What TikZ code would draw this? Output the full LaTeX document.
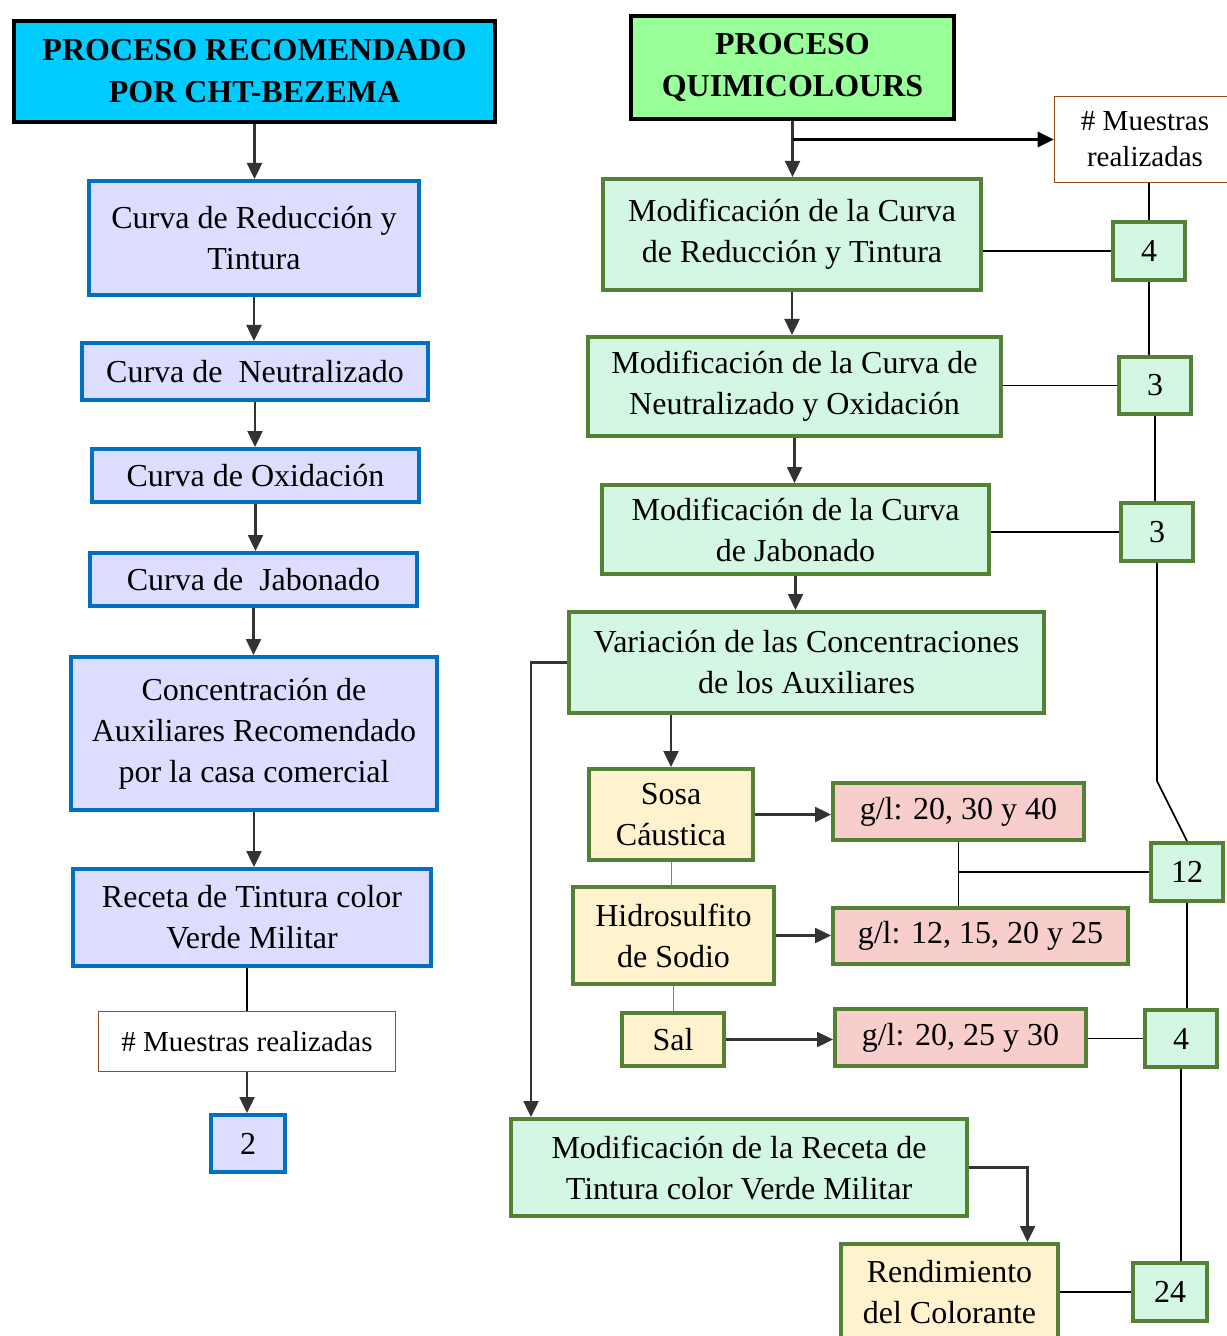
\documentclass[tikz,border=0pt]{standalone}
\usepackage{fontspec}
\setmainfont{Liberation Serif}
\usetikzlibrary{arrows.meta}
\definecolor{cyanhead}{HTML}{00CCFF}
\definecolor{greenhead}{HTML}{99FF99}
\definecolor{blueline}{HTML}{0070C0}
\definecolor{bluefill}{HTML}{DDDDFF}
\definecolor{greenline}{HTML}{538135}
\definecolor{mint}{HTML}{D4F7E3}
\definecolor{cream}{HTML}{FFF2CC}
\definecolor{rose}{HTML}{F8CECC}
\definecolor{brownline}{HTML}{964B1E}
\definecolor{arrowgray}{HTML}{333333}

\begin{document}
\begin{tikzpicture}[x=0.5pt, y=-0.5pt,
	every node/.style={align=center, inner sep=0pt, font=\fontsize{16}{20.5}\selectfont},
	head/.style={draw=black, line width=2pt, font=\fontsize{16}{21}\selectfont\bfseries},
	lbox/.style={draw=blueline, fill=bluefill, line width=2pt},
	rbox/.style={draw=greenline, fill=mint, line width=2pt},
	ybox/.style={draw=greenline, fill=cream, line width=2pt},
	gbox/.style={draw=greenline, fill=rose, line width=2pt},
	mbox/.style={draw=brownline, fill=white, line width=0.8pt, font=\fontsize{14.5}{18}\selectfont},
	flow/.style={draw=arrowgray, line width=1.2pt, -{Triangle[length=8pt,width=7.5pt]}},
	link/.style={draw=black, line width=0.8pt},
	thin link/.style={draw=gray, line width=0.5pt}]
	\useasboundingbox (0,0) rectangle (1226,1336);

	\node[head, fill=cyanhead, minimum width=240.5pt, minimum height=50.5pt] (a1) at (254.5,71.5) {PROCESO RECOMENDADO\\POR CHT-BEZEMA};
	\node[lbox, minimum width=165pt, minimum height=57pt] (a2) at (254,238) {Curva de Reducción y\\Tintura};
	\node[lbox, minimum width=173pt, minimum height=28.5pt] (a3) at (255,371.5) {Curva de~ Neutralizado};
	\node[lbox, minimum width=163.5pt, minimum height=26.5pt] (a4) at (255.5,475.5) {Curva de Oxidación};
	\node[lbox, minimum width=163.5pt, minimum height=26.5pt] (a5) at (253.5,579.5) {Curva de~ Jabonado};
	\node[lbox, minimum width=183pt, minimum height=76.5pt] (a6) at (254,733.5) {Concentración de\\Auxiliares Recomendado\\por la casa comercial};
	\node[lbox, minimum width=179pt, minimum height=48.5pt] (a7) at (252,917.5) {Receta de Tintura color\\Verde Militar};
	\node[mbox, minimum width=148.5pt, minimum height=30pt] (a8) at (247,1041.5) {\# Muestras realizadas};
	\node[lbox, minimum width=37pt, minimum height=28.5pt] (a9) at (248,1143.5) {2};

	\node[head, fill=greenhead, minimum width=161.5pt, minimum height=51.5pt] (b0) at (792.5,67.5) {PROCESO\\QUIMICOLOURS};
	\node[mbox, minimum width=90.5pt, minimum height=43pt] (m1) at (1145,139.5) {\# Muestras\\realizadas};
	\node[rbox, minimum width=189pt, minimum height=55.5pt] (b1) at (792,234.5) {Modificación de la Curva\\de Reducción y Tintura};
	\node[rbox, minimum width=206.5pt, minimum height=49.5pt] (b2) at (794.5,386.5) {Modificación de la Curva de\\Neutralizado y Oxidación};
	\node[rbox, minimum width=193.5pt, minimum height=44.5pt] (b3) at (795.5,529.5) {Modificación de la Curva\\de Jabonado};
	\node[rbox, minimum width=237.5pt, minimum height=50.5pt] (b4) at (806.5,662.5) {Variación de las Concentraciones\\de los Auxiliares};
	\node[rbox, minimum width=228pt, minimum height=48.5pt] (b5) at (739,1167.5) {Modificación de la Receta de\\Tintura color Verde Militar};

	\node[ybox, minimum width=82pt, minimum height=45.5pt] (c1) at (671,814.5) {Sosa\\Cáustica};
	\node[ybox, minimum width=100.5pt, minimum height=48.5pt] (c2) at (673.5,935.5) {Hidrosulfito\\de Sodio};
	\node[ybox, minimum width=51pt, minimum height=26.5pt] (c3) at (673,1039.5) {Sal};
	\node[ybox, minimum width=108.5pt, minimum height=48pt] (c4) at (949.5,1292) {Rendimiento\\del Colorante};

	\node[gbox, minimum width=125.5pt, minimum height=28.5pt] (d1) at (958.5,811.5) {g/l: 20, 30 y 40};
	\node[gbox, minimum width=147.5pt, minimum height=28pt] (d2) at (980.5,936) {g/l: 12, 15, 20 y 25};
	\node[gbox, minimum width=125.5pt, minimum height=28.5pt] (d3) at (960.5,1037.5) {g/l: 20, 25 y 30};

	\node[rbox, minimum width=36pt, minimum height=29pt] (e1) at (1149,251) {4};
	\node[rbox, minimum width=36pt, minimum height=28.5pt] (e2) at (1155,385.5) {3};
	\node[rbox, minimum width=36pt, minimum height=29pt] (e3) at (1157,532) {3};
	\node[rbox, minimum width=36pt, minimum height=29pt] (e4) at (1187,872) {12};
	\node[rbox, minimum width=36pt, minimum height=28.5pt] (e5) at (1181,1038.5) {4};
	\node[rbox, minimum width=37pt, minimum height=29pt] (e6) at (1170,1292) {24};

	\draw[flow] (a1.south) -- (a1.south |- a2.north);
	\draw[flow] (a2.south) -- (a2.south |- a3.north);
	\draw[flow] (a3.south) -- (a3.south |- a4.north);
	\draw[flow] (a4.south) -- (a4.south |- a5.north);
	\draw[flow] (a5.south) -- (a5.south |- a6.north);
	\draw[flow] (a6.south) -- (a6.south |- a7.north);
	\draw[link] (a8.north |- a7.south) -- (a8.north);
	\draw[flow] (a8.south) -- (a8.south |- a9.north);

	\draw[flow] (b0.south) -- (b0.south |- b1.north);
	\draw[flow, line width=1.5pt, draw=black] (b0.south |- m1.west) -- (m1.west);
	\draw[flow] (b1.south) -- (b1.south |- b2.north);
	\draw[flow] (b2.south) -- (b2.south |- b3.north);
	\draw[flow] (b3.south) -- (b3.south |- b4.north);
	\draw[flow] (b4.south -| c1.north) -- (c1.north);
	\draw[flow] (b4.west) -| ([xshift=11pt]b5.north west);
	\draw[flow] (b5.east) -| ([xshift=39pt]c4.north);

	\draw[flow] (c1.east) -- (c1.east -| d1.west);
	\draw[flow] (c2.east) -- (c2.east -| d2.west);
	\draw[flow] (c3.east) -- (c3.east -| d3.west);
	\draw[thin link] (c1.south) -- (c1.south |- c2.north);
	\draw[thin link] (c3.north |- c2.south) -- (c3.north);

	\draw[link] (d1.south) -- (d1.south |- d2.north);
	\draw[link] (d1.south |- e4.west) -- (e4.west);
	\draw[link] (e5.west -| d3.east) -- (e5.west);
	\draw[link] (e1.west -| b1.east) -- (e1.west);
	\draw[link] (e2.west -| b2.east) -- (e2.west);
	\draw[link] (e3.west -| b3.east) -- (e3.west);
	\draw[link] (c4.east) -- (e6.west);

	\draw[link] (e1.north |- m1.south) -- (e1.north);
	\draw[link] (e1.south) -- (e1.south |- e2.north);
	\draw[link] (e2.south) -- (e2.south |- e3.north);
	\draw[link] (e3.south) -- (e3.south |- d1.north) -- (e4.north);
	\draw[link] (e4.south) -- (e4.south |- e5.north);
	\draw[link] (e5.south) -- (e5.south |- e6.north);
\end{tikzpicture}
\end{document}
